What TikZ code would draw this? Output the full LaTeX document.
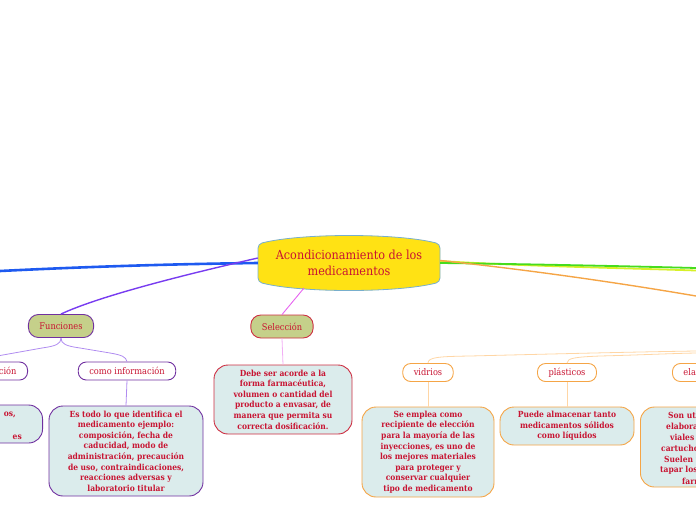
\documentclass[tikz,border=0pt]{standalone}
\usepackage{fontspec}
\IfFontExistsTF{DejaVu Serif Condensed}{\setmainfont{DejaVu Serif Condensed}}{\setmainfont{DejaVu Serif}}
\definecolor{txtred}{RGB}{200,20,50}
\definecolor{boxfill}{RGB}{219,236,236}
\definecolor{olivef}{RGB}{197,208,138}
\definecolor{purp}{RGB}{112,48,160}
\definecolor{lpurp}{RGB}{176,140,240}
\definecolor{crim}{RGB}{205,45,65}
\definecolor{orng}{RGB}{245,165,70}
\definecolor{lorng}{RGB}{255,214,165}
\definecolor{rootfill}{RGB}{255,226,20}
\definecolor{rootline}{RGB}{120,175,205}
\definecolor{bluel}{RGB}{30,90,240}
\definecolor{purl}{RGB}{120,60,240}
\definecolor{magl}{RGB}{230,100,240}
\definecolor{lmag}{RGB}{242,175,245}
\definecolor{greenl}{RGB}{70,220,30}
\definecolor{yell}{RGB}{215,240,40}
\newcommand{\labfont}{\fontsize{9.2}{11}\selectfont}
\newcommand{\descfont}{\fontsize{8.4}{10.6}\selectfont\bfseries}
\tikzset{
  lab/.style={draw, rounded corners=8pt, fill=white, text=txtred, font=\labfont,
    inner xsep=11pt, inner ysep=0pt, minimum height=18pt, line width=0.9pt},
  mainlab/.style={lab, fill=olivef, minimum height=23pt, rounded corners=10pt},
  desc/.style={draw, fill=boxfill, rounded corners=14pt, text=txtred, font=\descfont,
    align=center, line width=0.9pt, inner sep=0pt},
  frag/.style={text=txtred, font=\descfont, inner sep=0pt, anchor=west},
}
\begin{document}
\begin{tikzpicture}[x=1pt,y=-1pt]
\useasboundingbox (0,0) rectangle (696,520);
\clip (0,0) rectangle (696,520);

% central node shape
\path[draw=rootline, fill=rootfill, line width=0.8pt, rounded corners=4pt]
  (258,244) .. controls (300,233) and (398,233) .. (440,244) -- (440,282)
  .. controls (398,293) and (300,293) .. (258,282) -- cycle;
\node[text=txtred, align=center, font=\fontsize{12.5}{15.5}\selectfont,
  minimum width=182pt, minimum height=46pt, inner sep=0pt] (root) at (349,263)
  {Acondicionamiento de los\\medicamentos};

% coordinates for free ends
\coordinate (bl) at (0,271);
\coordinate (gr) at (696,268);
\coordinate (gy) at (696,270.5);
\coordinate (orr) at (696,296);
\coordinate (rs) at (304,288);
\coordinate (fl) at (0,355.5);
\coordinate (o1) at (696,351);
\coordinate (o2) at (696,353);

% level 1 nodes
\node[mainlab, draw=purp] (fun) at (61,326) {Funciones};
\node[mainlab, draw=crim] (sel) at (282,326.5) {Selección};

% level 2 nodes
\node[lab, draw=purp, anchor=east] (idn) at (28,371) {ción};
\node[lab, draw=purp] (info) at (127,371) {como información};
\node[lab, draw=orng] (vid) at (428,372.5) {vidrios};
\node[lab, draw=orng] (pla) at (567,372.5) {plásticos};
\node[lab, draw=orng, anchor=west, text width=60pt, align=left] (ela) at (672,372.5) {ela};

% descriptions
\node[desc, draw=purp, anchor=east, minimum width=140pt, minimum height=38pt] (iddesc) at (43,424) {};
\node[frag, anchor=base east] at (16,416.5) {os,};
\node[frag, anchor=base east] at (22,439.5) {es};
\node[desc, draw=purp, minimum width=154pt, minimum height=90pt] (infodesc) at (126,451)
  {Es todo lo que identifica el\\medicamento ejemplo:\\composición, fecha de\\caducidad, modo de\\administración, precaución\\de uso, contraindicaciones,\\reacciones adversas y\\laboratorio titular};
\node[desc, draw=crim, minimum width=138pt, minimum height=69pt] (seldesc) at (283,399.5)
  {Debe ser acorde a la\\forma farmacéutica,\\volumen o cantidad del\\producto a envasar, de\\manera que permita su\\correcta dosificación.};
\node[desc, draw=orng, minimum width=132pt, minimum height=90pt] (viddesc) at (428,452)
  {Se emplea como\\recipiente de elección\\para la mayoría de las\\inyecciones, es uno de\\los mejores materiales\\para proteger y\\conservar cualquier\\tipo de medicamento};
\node[desc, draw=orng, minimum width=134pt, minimum height=38pt] (pladesc) at (567,426)
  {Puede almacenar tanto\\medicamentos sólidos\\como líquidos};
\node[desc, draw=orng, anchor=west, minimum width=140pt, minimum height=80pt] (eladesc) at (640,447) {};
\node[frag] at (668,415) {Son ut};
\node[frag] at (666,426) {elabora};
\node[frag] at (670,437) {viales};
\node[frag] at (661,448) {cartucho};
\node[frag] at (664,459) {Suelen u};
\node[frag] at (660,470) {tapar los};
\node[frag] at (682,481) {farm};

% main connectors
\draw[bluel, line width=2.6pt] (root.west) .. controls (170,264) and (80,267) .. (bl);
\draw[purl, line width=1.4pt] ([yshift=5pt]root.west) .. controls (170,278) and (95,298) .. (fun.north);
\draw[magl, line width=0.9pt] (rs) -- (sel.north);
\draw[yell, line width=1.8pt] ([yshift=2pt]root.east) .. controls (520,266) and (620,268) .. (gy);
\draw[greenl, line width=1.8pt] (root.east) .. controls (520,264) and (620,266) .. (gr);
\draw[orng, line width=1.4pt] ([yshift=2.5pt]root.east) .. controls (530,270) and (620,283) .. (orr);

% sub connectors
\draw[lpurp, line width=0.8pt] (fun.south) .. controls (61,344) and (66,346) .. (80,348)
  -- (110,353) .. controls (122,355) and (126,357) .. (info.north);
\draw[lpurp, line width=0.8pt] (fun.south) .. controls (61,344) and (56,346) .. (42,348)
  -- (fl);
\draw[lpurp, line width=0.8pt] (info.south) -- (infodesc.north);
\draw[lmag, line width=0.8pt] (sel.south) -- (seldesc.north);
\draw[lorng, line width=0.8pt] (vid.north) .. controls (428,357) and (440,356.5) .. (470,356)
  .. controls (550,354) and (630,352) .. (o1);
\draw[lorng, line width=0.8pt] (pla.north) .. controls (567,358) and (576,357) .. (600,356)
  .. controls (640,355) and (670,353.5) .. (o2);
\draw[lorng, line width=0.8pt] (vid.south) -- (viddesc.north);
\draw[lorng, line width=0.8pt] (pla.south) -- (pladesc.north);
\end{tikzpicture}
\end{document}
